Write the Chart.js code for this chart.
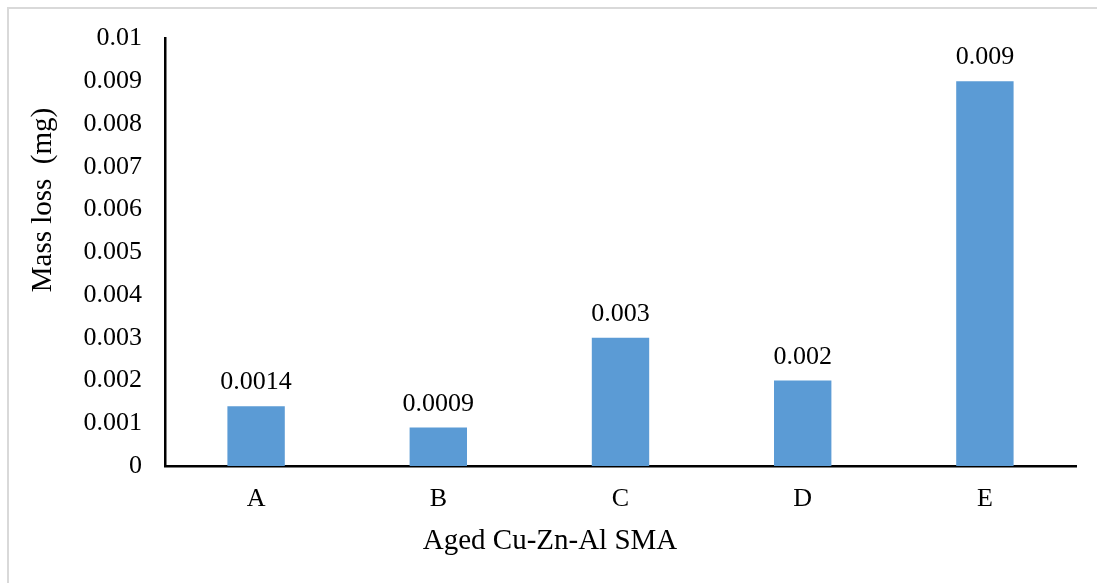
<!DOCTYPE html>
<html>
<head>
<meta charset="utf-8">
<script src="https://cdn.jsdelivr.net/npm/chart.js@4/dist/chart.umd.min.js"></script>
<style>
  html, body { margin: 0; padding: 0; background: #ffffff; }
  #wrap { width: 1097px; height: 583px; position: relative; }
</style>
</head>
<body>
<div id="wrap"><canvas id="c" width="1097" height="583"></canvas></div>
<script>
// Mass loss of aged Cu-Zn-Al shape memory alloy samples
const categories = ['A', 'B', 'C', 'D', 'E'];
const massLoss = [0.0014, 0.0009, 0.003, 0.002, 0.009];
const yTicks = [0, 0.001, 0.002, 0.003, 0.004, 0.005, 0.006, 0.007, 0.008, 0.009, 0.01];
const xTitle = 'Aged Cu-Zn-Al SMA';
const yTitle = 'Mass loss  (mg)';

const SERIF = '"Liberation Serif", "Times New Roman", serif';

// light frame, white background, axis titles and value labels
const decor = {
  id: 'decor',
  beforeDraw(chart) {
    const ctx = chart.ctx;
    ctx.save();
    ctx.fillStyle = '#ffffff';
    ctx.fillRect(0, 0, chart.width, chart.height);
    ctx.strokeStyle = '#d9d9d9';
    ctx.lineWidth = 2;
    ctx.strokeRect(8, 8, chart.width + 20, chart.height + 20);
    ctx.restore();
  },
  afterDatasetsDraw(chart) {
    const ctx = chart.ctx;
    const meta = chart.getDatasetMeta(0);
    ctx.save();
    ctx.fillStyle = '#000000';
    ctx.font = '26px ' + SERIF;
    ctx.textAlign = 'center';
    ctx.textBaseline = 'alphabetic';
    meta.data.forEach((bar, i) => {
      ctx.fillText(String(massLoss[i]), bar.x, bar.y - 17);
    });
    // axis titles
    ctx.font = '29px ' + SERIF;
    ctx.textBaseline = 'middle';
    ctx.fillText(xTitle, 550, 541);
    ctx.translate(43, 200);
    ctx.rotate(-Math.PI / 2);
    ctx.fillText(yTitle, 0, 0);
    ctx.restore();
  }
};

new Chart(document.getElementById('c'), {
  type: 'bar',
  data: {
    labels: categories,
    datasets: [{
      data: massLoss,
      backgroundColor: '#5b9bd5',
      borderWidth: 0,
      categoryPercentage: 1,
      barPercentage: 0.315
    }]
  },
  options: {
    responsive: false,
    animation: false,
    devicePixelRatio: 1,
    layout: { padding: { left: 0, top: 37, right: 21, bottom: 0 } },
    plugins: { legend: { display: false }, tooltip: { enabled: false } },
    scales: {
      x: {
        grid: { display: false, drawTicks: false },
        border: { display: true, color: '#000000', width: 2.5 },
        ticks: { color: '#000000', font: { family: SERIF, size: 26 }, padding: 18 },
        afterFit(scale) { scale.height = 117; }
      },
      y: {
        min: 0,
        max: 0.01,
        afterBuildTicks(scale) { scale.ticks = yTicks.map(v => ({ value: v })); },
        grid: { display: false, drawTicks: false },
        border: { display: true, color: '#000000', width: 2.5 },
        ticks: {
          color: '#000000',
          font: { family: SERIF, size: 26 },
          padding: 23,
          callback: v => String(v)
        },
        afterFit(scale) { scale.width = 165; }
      }
    }
  },
  plugins: [decor]
});
</script>
</body>
</html>
